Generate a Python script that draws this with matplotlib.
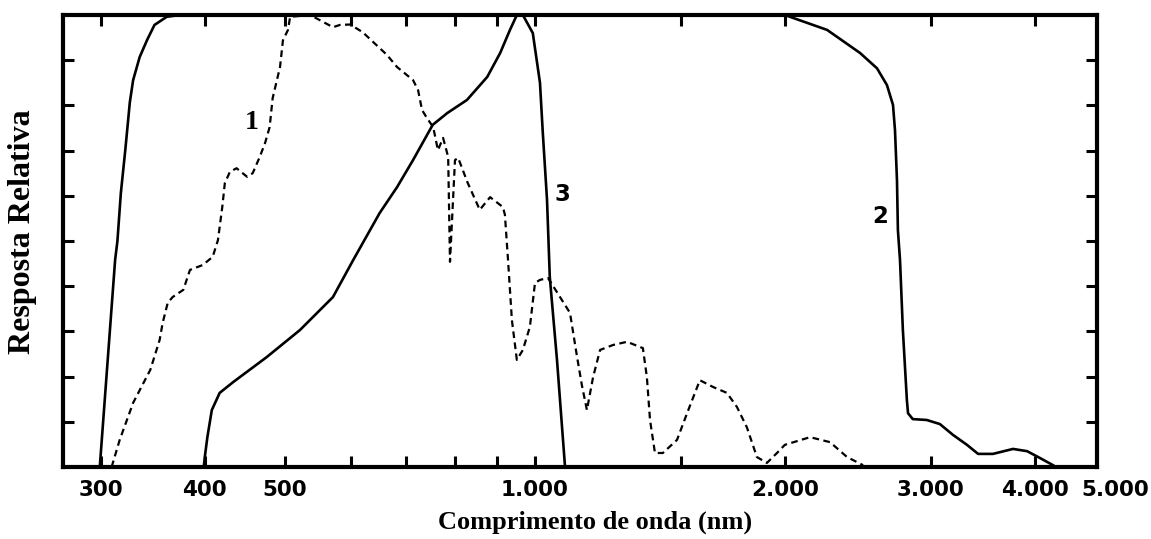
import matplotlib
matplotlib.use("Agg")
import matplotlib.pyplot as plt

# curve 1 (dashed): wavelength (nm) / relative response
wl_1 = [309, 316, 328, 344, 353, 356, 361, 366, 377, 384, 389, 398, 409, 415, 420, 423,
        429, 437, 450, 457, 466, 473, 479, 483, 493, 497, 504, 507, 536, 571, 582, 599,
        620, 663, 682, 713, 723, 731, 741, 754, 764, 775, 786, 790, 801, 808, 830, 858,
        883, 915, 920, 928, 938, 951, 967, 986, 1000, 1014, 1037, 1072, 1102, 1124, 1139,
        1155, 1175, 1198, 1242, 1291, 1349, 1364, 1376, 1395, 1426, 1483, 1525, 1580,
        1639, 1703, 1751, 1800, 1851, 1903, 1957, 2000, 2145, 2267, 2377, 2485]
resp_1 = [0.0, 0.06, 0.142, 0.215, 0.281, 0.319, 0.363, 0.376, 0.392, 0.436, 0.44, 0.447,
          0.465, 0.502, 0.575, 0.628, 0.653, 0.661, 0.642, 0.65, 0.686, 0.717, 0.752, 0.816,
          0.885, 0.944, 0.967, 0.996, 1.0, 0.973, 0.978, 0.979, 0.962, 0.912, 0.885, 0.856,
          0.834, 0.79, 0.772, 0.752, 0.701, 0.728, 0.686, 0.454, 0.679, 0.684, 0.628, 0.569,
          0.597, 0.575, 0.558, 0.458, 0.325, 0.237, 0.259, 0.31, 0.407, 0.414, 0.418, 0.376,
          0.341, 0.243, 0.181, 0.126, 0.199, 0.259, 0.27, 0.277, 0.263, 0.199, 0.104, 0.031,
          0.031, 0.06, 0.119, 0.192, 0.177, 0.164, 0.133, 0.088, 0.022, 0.009, 0.031, 0.049,
          0.066, 0.055, 0.022, 0.004]

# curve 2 (solid, wide band)
wl_2 = [299, 312, 314, 317, 321, 325, 328, 334, 341, 348, 360, 373, 2000, 2249, 2464,
        2583, 2655, 2700, 2715, 2730, 2737, 2753, 2775, 2806, 2815, 2852, 2965, 3075, 3189,
        3315, 3419, 3563, 3767, 3917, 4058, 4209]
resp_2 = [0.0, 0.458, 0.5, 0.606, 0.703, 0.807, 0.856, 0.907, 0.945, 0.978, 0.996, 1.0,
          1.0, 0.967, 0.916, 0.882, 0.845, 0.801, 0.745, 0.634, 0.524, 0.458, 0.303, 0.148,
          0.119, 0.106, 0.104, 0.095, 0.071, 0.049, 0.029, 0.029, 0.04, 0.035, 0.02, 0.004]

# curve 3 (solid, peak near 950 nm)
wl_3 = [399, 400, 403, 408, 417, 433, 475, 521, 571, 604, 650, 682, 713, 753, 784, 828,
        876, 908, 933, 951, 967, 994, 1014, 1022, 1034, 1042, 1063, 1087]
resp_3 = [0.0, 0.02, 0.066, 0.126, 0.164, 0.188, 0.243, 0.303, 0.376, 0.458, 0.562, 0.619,
          0.679, 0.757, 0.783, 0.812, 0.863, 0.916, 0.967, 1.0, 1.0, 0.96, 0.85, 0.739,
          0.591, 0.42, 0.237, 0.0]

x_ticks = [300, 400, 500, 600, 700, 800, 900, 1000, 1500, 2000, 3000, 4000]
x_tick_labels = ["300", "400", "500", "", "", "", "", "1.000", "", "2.000", "3.000", "4.000"]
y_ticks = [0.1, 0.2, 0.3, 0.4, 0.5, 0.6, 0.7, 0.8, 0.9]

curve_labels = [("1", 456, 0.763), ("3", 1078, 0.602), ("2", 2604, 0.555)]

fig = plt.figure(figsize=(11.51, 5.39), dpi=100)
ax = fig.add_axes([63 / 1151, 1 - 467 / 539, (1097 - 63) / 1151, (467 - 15) / 539])

ax.plot(wl_1, resp_1, color="black", lw=1.6, ls=(0, (3, 2)))
ax.plot(wl_2, resp_2, color="black", lw=1.9)
ax.plot(wl_3, resp_3, color="black", lw=1.9)

ax.set_xscale("log")
ax.set_xlim(270, 4755)
ax.set_ylim(0, 1)
ax.minorticks_off()
ax.set_xticks(x_ticks)
ax.set_xticklabels(x_tick_labels, fontsize=15.5, fontweight="bold", family="DejaVu Sans")
ax.set_yticks(y_ticks)
ax.set_yticklabels([])
ax.tick_params(axis="both", which="major", direction="in", top=True, right=True,
               length=8, width=2.2, pad=9)
for s in ax.spines.values():
    s.set_linewidth(3)

# 5000 sits beyond the right edge of the frame
ax.text(5000, -0.029, "5.000", ha="center", va="top", fontsize=15.5, fontweight="bold",
        family="DejaVu Sans", transform=ax.get_xaxis_transform())

for txt, x, y in curve_labels:
    fam = "Liberation Serif" if txt == "1" else "DejaVu Sans"
    size = 20 if txt == "1" else 16.5
    ax.text(x, y, txt, ha="center", va="center", fontsize=size, fontweight="bold", family=fam)

fig.text(595 / 1151, 1 - 522 / 539, "Comprimento de onda (nm)", ha="center", va="center",
         fontsize=19, fontweight="bold", family="Liberation Serif")
fig.text(23 / 1151, 1 - 232 / 539, "Resposta Relativa", ha="center", va="center",
         rotation=90, fontsize=23, fontweight="bold", family="Liberation Serif")

fig.savefig("out.png", dpi=100)
